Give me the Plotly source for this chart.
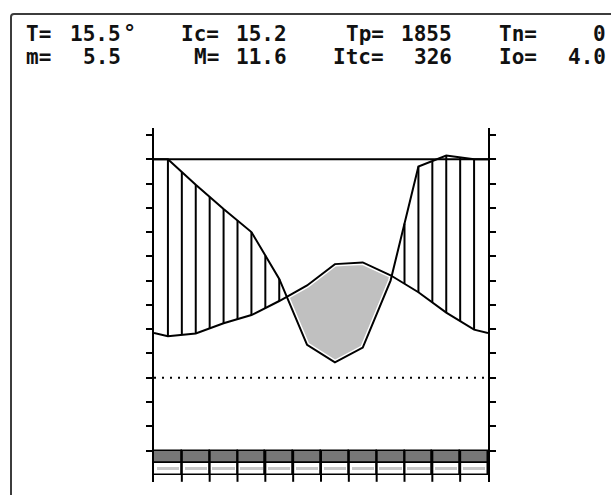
import numpy as np
import plotly.graph_objects as go

# ---------------- data ----------------
months = ["Jan", "Feb", "Mar", "Apr", "May", "Jun",
          "Jul", "Aug", "Sep", "Oct", "Nov", "Dec"]
temp_c = [8.55, 9.1, 11.2, 12.9, 15.8, 19.0, 23.4, 23.75, 21.1, 17.6, 13.4, 9.9]
precip_mm = [90, 79.5, 69.5, 60, 40.7, 13.5, 6.3, 12.4, 40, 87, 91.5, 90]
precip_ref_mm = 90          # horizontal reference line
band_dark = [1] * 12        # frost-risk band (upper, dark)
band_light = [1] * 12       # frost-risk band (lower, light)

hdr_labels_left = ["T=", "m="]
hdr_values_1 = ["15.5", "5.5"]
hdr_labels_2 = ["Ic=", "M="]
hdr_values_2 = ["15.2", "11.6"]
hdr_labels_3 = ["Tp=", "Itc="]
hdr_values_3 = ["1855", "326"]
hdr_labels_4 = ["Tn=", "Io="]
hdr_values_4 = ["0", "4.0"]

# ---------------- geometry helpers (pixels -> paper) ----------------
W, H = 611, 495
PL, PR, PT, PB = 154, 488, 128, 482
Y_RANGE = [-21.49, 51.44]


def px(x):
    return (x - PL) / (PR - PL)


def py(y):
    return (PB - y) / (PB - PT)


# ---------------- derived curves ----------------
centers = list(np.arange(12) + 0.5)
t_edge = (temp_c[0] + temp_c[-1]) / 2
p_edge = (precip_mm[0] + precip_mm[-1]) / 2
xs = [0.0] + centers + [12.0]
t_curve = [t_edge] + temp_c + [t_edge]
p_curve = [v / 2 for v in [p_edge] + precip_mm + [p_edge]]

xg = np.linspace(0, 12, 2401)
tg = np.interp(xg, xs, t_curve)
pg = np.interp(xg, xs, p_curve)

hx, hy = [], []
for k in range(1, 24):
    xk = k * 0.5
    tk = float(np.interp(xk, xs, t_curve))
    pk = float(np.interp(xk, xs, p_curve))
    if pk > tk:
        hx += [xk, xk, None]
        hy += [tk, pk, None]

fig = go.Figure()

# frost band bars
fig.add_trace(go.Bar(x=centers, y=[-2.63 * v for v in band_dark], base=-15, width=1,
                     marker=dict(color="#777777", line=dict(color="black", width=1.5)),
                     hoverinfo="skip", showlegend=False))
fig.add_trace(go.Bar(x=centers, y=[-2.42 * v for v in band_light], base=-17.63, width=1,
                     marker=dict(color="white", line=dict(color="black", width=1.5)),
                     hoverinfo="skip", showlegend=False))
fig.add_trace(go.Bar(x=centers, y=[-0.7 * v for v in band_light], base=-18.35, width=0.8,
                     marker=dict(color="#c8c8c8", line=dict(width=0)),
                     hoverinfo="skip", showlegend=False))

# dividers through band
dx, dy = [], []
for i in range(1, 12):
    dx += [i, i, None]
    dy += [-15, -21.45, None]
fig.add_trace(go.Scatter(x=dx, y=dy, mode="lines", line=dict(color="black", width=2),
                         hoverinfo="skip", showlegend=False))

# dry-period fill
fig.add_trace(go.Scatter(x=xg, y=pg, mode="lines", line=dict(width=0),
                         hoverinfo="skip", showlegend=False))
fig.add_trace(go.Scatter(x=xg, y=np.maximum(tg, pg), mode="lines", line=dict(width=0),
                         fill="tonexty", fillcolor="#c0c0c0",
                         hoverinfo="skip", showlegend=False))

# white halo under curves
for yc in (t_curve, p_curve):
    fig.add_trace(go.Scatter(x=xs, y=yc, mode="lines", line=dict(color="white", width=5),
                             hoverinfo="skip", showlegend=False))

# wet-period hatching
fig.add_trace(go.Scatter(x=hx, y=hy, mode="lines", line=dict(color="black", width=2),
                         hoverinfo="skip", showlegend=False))

# reference lines
fig.add_trace(go.Scatter(x=[0, 12], y=[precip_ref_mm / 2] * 2, mode="lines",
                         line=dict(color="black", width=2), hoverinfo="skip", showlegend=False))
fig.add_trace(go.Scatter(x=[0, 12], y=[0, 0], mode="lines",
                         line=dict(color="black", width=2, dash="2px,6px"),
                         hoverinfo="skip", showlegend=False))

# curves
fig.add_trace(go.Scatter(x=xs, y=t_curve, mode="lines", name="T",
                         line=dict(color="black", width=2), showlegend=False))
fig.add_trace(go.Scatter(x=xs, y=p_curve, mode="lines", name="P",
                         line=dict(color="black", width=2), showlegend=False))

# ---------------- header text ----------------
FONT = dict(family="DejaVu Sans Mono", size=21, color="#111111", weight="bold")
rows_y = [33.8, 57.2]
ann = []


def add(text, x, y, anchor, font=FONT):
    ann.append(dict(text=text, x=px(x), y=py(y), xref="paper", yref="paper",
                    xanchor=anchor, yanchor="middle", showarrow=False, font=font))


for r in range(2):
    y = rows_y[r]
    add(hdr_labels_left[r], 24, y, "left")
    add(hdr_values_1[r], 123, y, "right")
    add(hdr_labels_2[r], 221, y, "right")
    add(hdr_values_2[r], 289, y, "right")
    add(hdr_labels_3[r], 386, y, "right")
    add(hdr_values_3[r], 454, y, "right")
    add(hdr_labels_4[r], 497, y, "left")
    add(hdr_values_4[r], 608, y, "right")
add("°", 121, rows_y[0] - 1, "left", dict(FONT, size=22))

frame_path = (f"M {px(11)},{py(505)} L {px(11)},{py(17)} "
              f"Q {px(11)},{py(14)} {px(14)},{py(14)} L {px(640)},{py(14)}")

fig.update_layout(
    width=W, height=H,
    margin=dict(l=PL, r=W - PR, t=PT, b=H - PB, pad=0),
    paper_bgcolor="white", plot_bgcolor="white",
    barmode="overlay", bargap=0,
    xaxis=dict(range=[0, 12], showgrid=False, zeroline=False, showline=False,
               showticklabels=False, ticks=""),
    yaxis=dict(range=Y_RANGE, showgrid=False, zeroline=False, showline=True,
               linecolor="black", linewidth=2, mirror="ticks",
               ticks="outside", ticklen=6, tickwidth=2, tickcolor="black",
               tickvals=list(range(-15, 55, 5)), showticklabels=False),
    annotations=ann,
    shapes=[dict(type="path", path=frame_path, xref="paper", yref="paper",
                 line=dict(color="#3c3c3c", width=2))],
)

fig.write_html("out.html", config={"displayModeBar": False},
               post_script="document.body.style.margin='0';document.body.style.overflow='hidden';")
